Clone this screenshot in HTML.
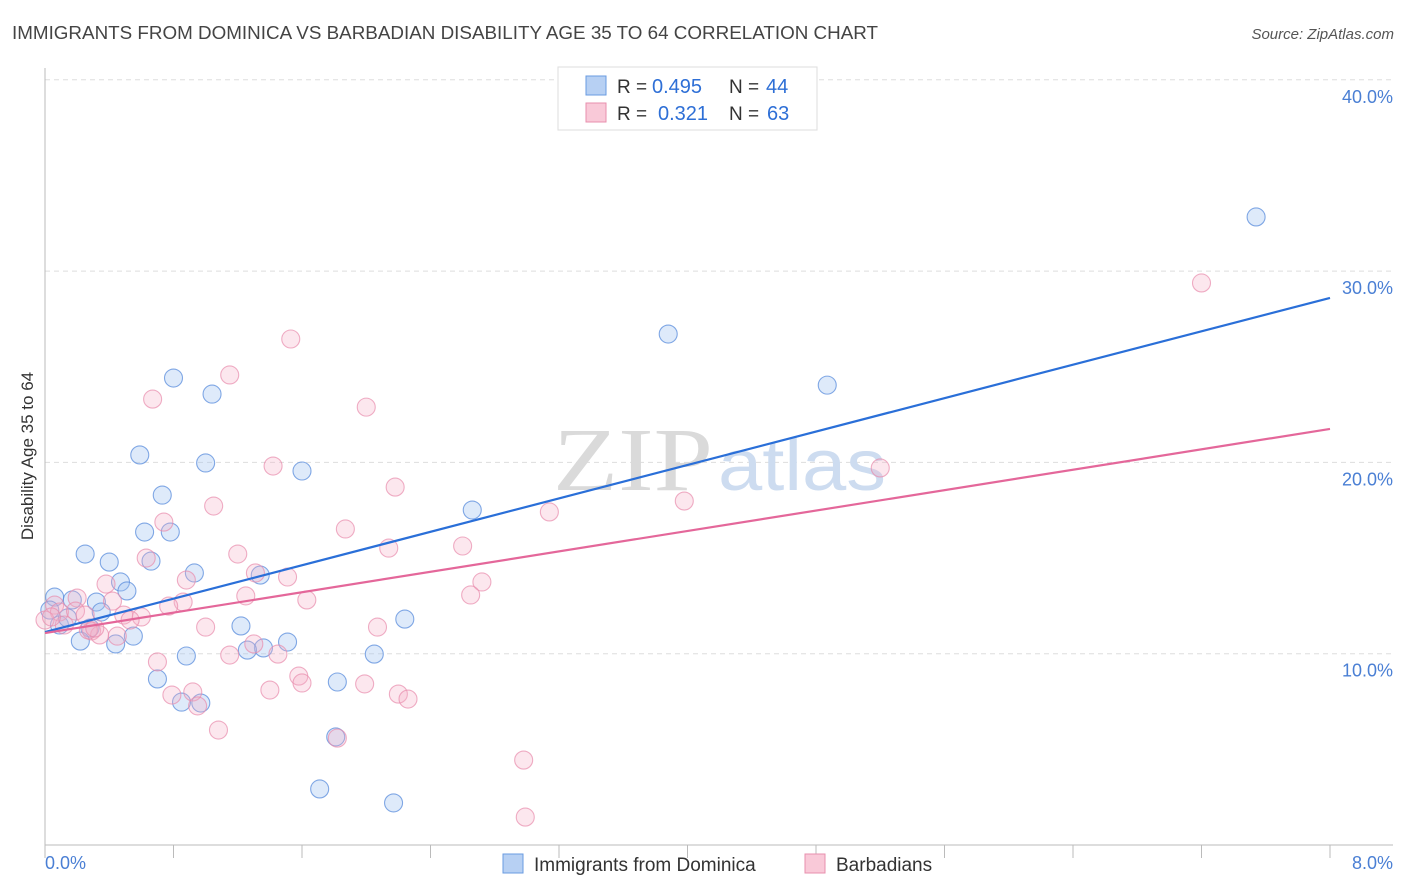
<!DOCTYPE html>
<html><head><meta charset="utf-8"><style>
body{margin:0;background:#fff;font-family:"Liberation Sans",sans-serif}
svg{display:block}
</style></head><body>
<svg id="chart" width="1406" height="892" viewBox="0 0 1406 892" xmlns="http://www.w3.org/2000/svg">
<text x="12" y="39" font-size="18" fill="#444" textLength="866" lengthAdjust="spacingAndGlyphs">IMMIGRANTS FROM DOMINICA VS BARBADIAN DISABILITY AGE 35 TO 64 CORRELATION CHART</text>
<text x="1394" y="39" font-size="15" fill="#555" text-anchor="end" font-style="italic">Source: ZipAtlas.com</text>
<g id="grid"></g>
<g>
<text x="553" y="490" font-size="90" fill="#dadada" font-family="Liberation Serif, serif" textLength="160" lengthAdjust="spacingAndGlyphs">ZIP</text>
<text x="718" y="490" font-size="72" fill="#cddcf0" font-family="Liberation Sans, sans-serif" textLength="168" lengthAdjust="spacingAndGlyphs">atlas</text>
</g>
<g id="pts"></g>
<g id="lines"></g>
<text transform="translate(33,456) rotate(-90)" font-size="17" fill="#333" text-anchor="middle">Disability Age 35 to 64</text>
<text x="45" y="869" font-size="18" fill="#4a7fd4">0.0%</text>
<text x="1393" y="869" font-size="18" fill="#4a7fd4" text-anchor="end">8.0%</text>
<g>
<rect x="558" y="67" width="259" height="63" fill="#fff" stroke="#ddd"/>
<rect x="586" y="76" width="20" height="19" fill="#b7d0f3" stroke="#6a9be0"/>
<rect x="586" y="103" width="20" height="19" fill="#f9c9d8" stroke="#e88fae"/>
<text x="617" y="93" font-size="19" fill="#333">R =</text>
<text x="652" y="93" font-size="20" fill="#2e6fd6">0.495</text>
<text x="729" y="93" font-size="19" fill="#333">N =</text>
<text x="766" y="93" font-size="20" fill="#2e6fd6">44</text>
<text x="617" y="120" font-size="19" fill="#333">R =</text>
<text x="658" y="120" font-size="20" fill="#2e6fd6">0.321</text>
<text x="729" y="120" font-size="19" fill="#333">N =</text>
<text x="767" y="120" font-size="20" fill="#2e6fd6">63</text>
</g>
<g>
<rect x="503" y="854" width="20" height="19" fill="#b7d0f3" stroke="#6a9be0"/>
<text x="534" y="871" font-size="19" fill="#333">Immigrants from Dominica</text>
<rect x="805" y="854" width="20" height="19" fill="#f9c9d8" stroke="#e88fae"/>
<text x="836" y="871" font-size="19" fill="#333">Barbadians</text>
</g>
</svg>
<script>
const yTicks=[10,20,30,40];
const yTickLabels=["10.0%","20.0%","30.0%","40.0%"];
const blueX=[7.54,3.88,4.87,0.80,1.04,0.59,1.00,1.60,0.73,2.66,0.62,0.78,0.25,0.40,0.66,0.93,1.34,0.47,0.51,0.06,0.32,0.17,0.03,0.09,0.35,0.14,0.28,2.24,1.22,1.51,0.22,0.44,0.55,1.36,1.26,2.05,0.88,0.70,1.82,0.85,0.97,1.81,1.71,2.17];
const blueY=[32.83,26.71,24.04,24.41,23.57,20.39,19.97,19.55,18.29,17.51,16.36,16.36,15.21,14.79,14.84,14.22,14.11,13.75,13.28,12.96,12.70,12.81,12.28,11.50,12.18,11.87,11.34,11.81,11.45,10.61,10.66,10.51,10.92,10.30,10.19,9.98,9.88,8.68,8.52,7.47,7.42,5.65,2.93,2.20];
const pinkX=[7.20,1.53,1.15,2.00,0.67,1.42,5.20,2.18,3.98,1.05,3.14,0.74,1.87,1.20,2.14,2.60,0.63,1.31,1.51,2.72,0.88,0.38,2.65,1.25,1.63,0.20,0.86,0.42,0.77,0.06,0.09,0.49,0.60,0.53,1.00,2.07,0.29,0.34,1.30,0.45,1.15,1.45,0.70,1.58,1.60,1.40,0.79,0.92,1.99,2.20,2.26,0.95,1.08,1.82,2.98,2.99,0.00,0.12,0.19,0.25,0.04,0.27,0.31];
const pinkY=[29.38,26.45,24.57,22.89,23.31,19.81,19.71,18.71,17.98,17.72,17.41,16.88,16.52,15.21,15.52,15.63,15.00,14.22,14.01,13.75,13.85,13.64,13.07,13.02,12.81,12.91,12.70,12.75,12.49,12.54,12.18,12.02,11.92,11.76,11.39,11.39,11.19,10.98,10.51,10.92,9.93,9.98,9.57,8.83,8.47,8.10,7.84,8.00,8.42,7.89,7.63,7.27,6.01,5.59,4.44,1.46,11.76,11.50,12.23,12.02,11.92,11.24,11.34];
const blueTrend=[11.13,28.6];
const pinkTrend=[11.08,21.75];
const NS="http://www.w3.org/2000/svg";
const X=v=>45+v/8*1285;
const Y=v=>845-v*19.13;
function mk(tag,attrs,parent){const e=document.createElementNS(NS,tag);for(const k in attrs)e.setAttribute(k,attrs[k]);parent.appendChild(e);return e;}
const grid=document.getElementById('grid');
yTicks.forEach((t,i)=>{
 const l=mk('line',{x1:45,x2:1393,y1:Y(t),y2:Y(t),stroke:'#ddd','stroke-dasharray':'5,4'},grid);
 
 
 const tx=mk('text',{x:1393,y:Y(t)+23,'font-size':18,fill:'#4a7fd4','text-anchor':'end'},grid);
 tx.textContent=yTickLabels[i];
 
 
});
const ax=mk('line',{x1:45,x2:45,y1:68,y2:845,stroke:'#bbb'},grid);


const bx=mk('line',{x1:45,x2:1393,y1:845,y2:845,stroke:'#bbb'},grid);


for(let i=0;i<=10;i++){
 const t=mk('line',{x1:X(i*0.8),x2:X(i*0.8),y1:845,y2:858,stroke:'#bbb'},grid);
 
 
}
const pts=document.getElementById('pts');
blueX.forEach((v,i)=>{
 const c=mk('circle',{cx:X(v),cy:Y(blueY[i]),r:9,fill:'rgba(160,195,240,0.35)',stroke:'rgba(90,140,220,0.75)','stroke-width':1.1},pts);
 
 
});
pinkX.forEach((v,i)=>{
 const c=mk('circle',{cx:X(v),cy:Y(pinkY[i]),r:9,fill:'rgba(245,175,198,0.3)',stroke:'rgba(232,140,172,0.7)','stroke-width':1.1},pts);
 
 
});
const lines=document.getElementById('lines');
const bl=mk('line',{x1:X(0),y1:Y(blueTrend[0]),x2:X(8),y2:Y(blueTrend[1]),stroke:'#2a6fd8','stroke-width':2.2},lines);


const pl=mk('line',{x1:X(0),y1:Y(pinkTrend[0]),x2:X(8),y2:Y(pinkTrend[1]),stroke:'#e4679a','stroke-width':2.2},lines);


</script>
</body></html>
